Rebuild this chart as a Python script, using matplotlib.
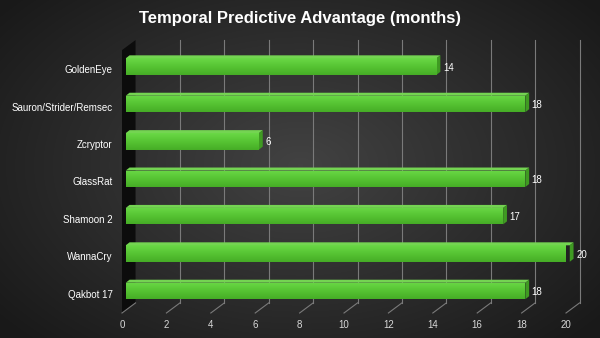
import numpy as np
import matplotlib
matplotlib.use("Agg")
import matplotlib.pyplot as plt
from matplotlib.patches import Polygon

plt.rcParams['font.family'] = ['Liberation Sans', 'DejaVu Sans']

# Data
categories = ["GoldenEye", "Sauron/Strider/Remsec", "Zcryptor", "GlassRat",
              "Shamoon 2", "WannaCry", "Qakbot 17"]
months = [14, 18, 6, 18, 17, 20, 18]
x_ticks = [0, 2, 4, 6, 8, 10, 12, 14, 16, 18, 20]
title = "Temporal Predictive Advantage (months)"

W, H, DPI = 600, 338, 100
fig = plt.figure(figsize=(W / DPI, H / DPI), dpi=DPI)

# Radial dark background
bg = fig.add_axes([0, 0, 1, 1])
yy, xx = np.mgrid[0:H, 0:W]
r = np.sqrt(((xx - 300) / 360.0) ** 2 + ((yy - 165) / 230.0) ** 2)
shade = np.clip(0.26 - 0.15 * r, 0.1, 0.26)
bg.imshow(np.dstack([shade, shade, shade]), extent=[0, W, H, 0], aspect="auto")
bg.set_xlim(0, W)
bg.set_ylim(H, 0)
bg.axis("off")

# Plot axes: x in months, y in category slots (top to bottom)
x0_px, x1_px = 122, 566
y_top_px, y_floor_px = 40, 313
ax = fig.add_axes([x0_px / W, (H - y_floor_px) / H,
                   (x1_px - x0_px) / W, (y_floor_px - y_top_px) / H])
ax.set_xlim(0, 20)
ax.set_ylim(6.59, -0.71)
ax.axis("off")

# 3D geometry offsets (data units)
DX, DY = 0.61, 0.27          # wall depth
BX, BDX, BDY = 0.17, 0.17, 0.08  # bar position and bar depth
HALF = 0.22
floor_front = 6.59
floor_back = floor_front - DY
top_back = -0.71
top_front = top_back + DY

grid_c = "#7a7a7a"
# Left wall
ax.add_patch(Polygon([(0, top_front), (DX, top_back), (DX, floor_back), (0, floor_front)],
                     closed=True, facecolor="#0c0c0c", edgecolor="none", zorder=1, clip_on=False))
# Back-wall gridlines and floor lines
for t in x_ticks:
    if t > 0:
        ax.plot([t + DX, t + DX], [top_back, floor_back], color=grid_c, lw=0.8,
                zorder=1, clip_on=False)
    ax.plot([t, t + DX], [floor_front, floor_back], color=grid_c, lw=0.8,
            zorder=1, clip_on=False)
    ax.text(t, floor_front + 0.33, str(t), color="#d8d8d8", fontsize=7,
            ha="center", va="center", clip_on=False)

# Bars
grad = np.linspace(0, 1, 50).reshape(-1, 1)
from matplotlib.colors import LinearSegmentedColormap
green = LinearSegmentedColormap.from_list("g", ["#6ad846", "#56c433", "#46ad26"])
for i, (name, v) in enumerate(zip(categories, months)):
    xs, xe = BX, BX + v
    yt, yb = i - HALF, i + HALF
    # top face
    ax.add_patch(Polygon([(xs, yt), (xs + BDX, yt - BDY), (xe + BDX, yt - BDY), (xe, yt)],
                         closed=True, facecolor="#74d452", edgecolor="none", zorder=3, clip_on=False))
    # end face
    ax.add_patch(Polygon([(xe, yt), (xe + BDX, yt - BDY), (xe + BDX, yb - BDY), (xe, yb)],
                         closed=True, facecolor="#3f9a22", edgecolor="none", zorder=3, clip_on=False))
    # front face with gradient
    front = Polygon([(xs, yt), (xe, yt), (xe, yb), (xs, yb)], closed=True,
                    facecolor="none", edgecolor="none", zorder=4)
    ax.add_patch(front)
    im = ax.imshow(grad, cmap=green, extent=[xs, xe, yb, yt], aspect="auto",
                   zorder=4, interpolation="bilinear")
    im.set_clip_path(front)
    # value label
    ax.text(xe + BDX + 0.12, i + 0.03, str(v), color="white", fontsize=7,
            ha="left", va="center", clip_on=False, zorder=5)
    # category label
    ax.text(-0.42, i + 0.1, name, color="white", fontsize=7,
            ha="right", va="center", clip_on=False)

ax.set_xlim(0, 20)
ax.set_ylim(6.59, -0.71)

fig.text(0.5, 1 - 19 / H, title, color="white", fontsize=12, fontweight="bold",
         ha="center", va="center")

fig.savefig("out.png", dpi=DPI)
